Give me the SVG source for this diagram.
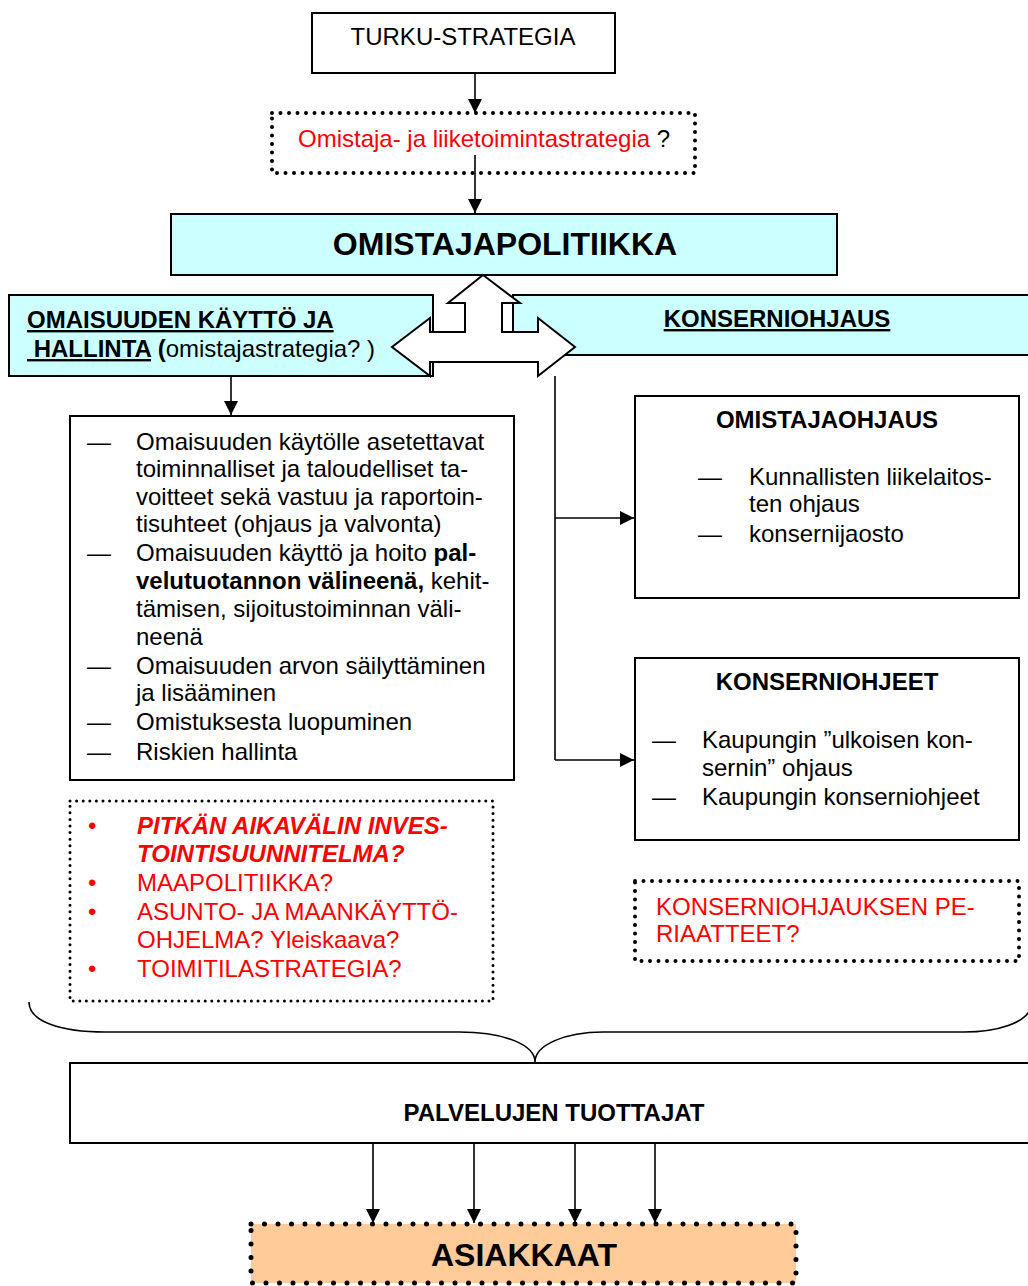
<svg xmlns="http://www.w3.org/2000/svg" width="1028" height="1286" viewBox="0 0 1028 1286">
<defs>
<marker id="ah" markerUnits="userSpaceOnUse" markerWidth="16" markerHeight="16" refX="14" refY="7" orient="auto"><path d="M0,0 L14,7 L0,14 z" fill="#000"/></marker>
<style>
text{font-family:"Liberation Sans",Arial,sans-serif;font-size:24px;fill:#000}
.b{font-weight:bold}
.bi{font-weight:bold;font-style:italic}
.r{fill:#f00}
.u{text-decoration:underline}
.mid{text-anchor:middle}
.box{fill:#fff;stroke:#000;stroke-width:2}
.cy{fill:#ccffff;stroke:#000;stroke-width:2}
.dots{fill:none;stroke:#000;stroke-width:4;stroke-linecap:round;stroke-dasharray:0 8.5}
.dots-s{fill:none;stroke:#000;stroke-width:3;stroke-linecap:round;stroke-dasharray:0 6.6}
.dots-l{fill:none;stroke:#000;stroke-width:5;stroke-linecap:round;stroke-dasharray:0 13.5}
.con{stroke:#000;stroke-width:1.6;fill:none}
.arr{marker-end:url(#ah)}
</style>
</defs>
<rect width="1028" height="1286" fill="#fff"/>

<g id="turku-strategia">
<rect class="box" x="312" y="13" width="303" height="60"/>
<text class="mid" x="463" y="45">TURKU-STRATEGIA</text>
</g>

<g id="omistaja-liiketoimintastrategia">
<rect class="dots" x="272" y="113" width="423" height="60"/>
<text x="298" y="147"><tspan class="r">Omistaja- ja liiketoimintastrategia</tspan> ?</text>
</g>

<g id="omistajapolitiikka">
<rect class="cy" x="171" y="214" width="666" height="61"/>
<text class="b mid" x="505" y="255" style="font-size:32px">OMISTAJAPOLITIIKKA</text>
</g>

<g id="omaisuuden-kaytto">
<rect class="cy" x="9" y="295" width="424" height="81"/>
<text class="b u" x="27" y="328">OMAISUUDEN KÄYTTÖ JA</text>
<text x="27" y="357" xml:space="preserve"><tspan class="b u"> HALLINTA</tspan><tspan class="b"> (</tspan>omistajastrategia? )</text>
</g>

<g id="konserniohjaus">
<rect class="cy" x="513" y="295" width="520" height="60"/>
<text class="b u mid" x="777" y="327">KONSERNIOHJAUS</text>
</g>

<g id="omaisuus-lista">
<rect class="box" x="70" y="416" width="444" height="364"/>
<text x="87" y="450">—</text>
<text x="136" y="450">Omaisuuden käytölle asetettavat</text>
<text x="136" y="477">toiminnalliset ja taloudelliset ta-</text>
<text x="136" y="505">voitteet sekä vastuu ja raportoin-</text>
<text x="136" y="532">tisuhteet (ohjaus ja valvonta)</text>
<text x="87" y="561">—</text>
<text x="136" y="561">Omaisuuden käyttö ja hoito <tspan class="b">pal-</tspan></text>
<text x="136" y="589"><tspan class="b">velutuotannon välineenä,</tspan> kehit-</text>
<text x="136" y="617">tämisen, sijoitustoiminnan väli-</text>
<text x="136" y="645">neenä</text>
<text x="87" y="674">—</text>
<text x="136" y="674">Omaisuuden arvon säilyttäminen</text>
<text x="136" y="701">ja lisääminen</text>
<text x="87" y="730">—</text>
<text x="136" y="730">Omistuksesta luopuminen</text>
<text x="87" y="760">—</text>
<text x="136" y="760">Riskien hallinta</text>
</g>

<g id="suunnitelmat">
<rect class="dots-s" x="70" y="801" width="423" height="200"/>
<text class="r" x="88" y="834">•</text>
<text class="r bi" x="137" y="834">PITKÄN AIKAVÄLIN INVES-</text>
<text class="r bi" x="137" y="862">TOINTISUUNNITELMA?</text>
<text class="r" x="88" y="891">•</text>
<text class="r" x="137" y="891">MAAPOLITIIKKA?</text>
<text class="r" x="88" y="920">•</text>
<text class="r" x="137" y="920">ASUNTO- JA MAANKÄYTTÖ-</text>
<text class="r" x="137" y="948">OHJELMA? Yleiskaava?</text>
<text class="r" x="88" y="977">•</text>
<text class="r" x="137" y="977">TOIMITILASTRATEGIA?</text>
</g>

<g id="omistajaohjaus">
<rect class="box" x="635" y="396" width="384" height="202"/>
<text class="b mid" x="827" y="428">OMISTAJAOHJAUS</text>
<text x="698" y="485">—</text>
<text x="749" y="485">Kunnallisten liikelaitos-</text>
<text x="749" y="512">ten ohjaus</text>
<text x="698" y="542">—</text>
<text x="749" y="542">konsernijaosto</text>
</g>

<g id="konserniohjeet">
<rect class="box" x="635" y="658" width="384" height="182"/>
<text class="b mid" x="827" y="690">KONSERNIOHJEET</text>
<text x="652" y="748">—</text>
<text x="702" y="748">Kaupungin ”ulkoisen kon-</text>
<text x="702" y="776">sernin” ohjaus</text>
<text x="652" y="805">—</text>
<text x="702" y="805">Kaupungin konserniohjeet</text>
</g>

<g id="konserniohjauksen-periaatteet">
<rect class="dots" x="635" y="881" width="384" height="80"/>
<text class="r" x="656" y="915">KONSERNIOHJAUKSEN PE-</text>
<text class="r" x="656" y="942">RIAATTEET?</text>
</g>

<g id="palvelujen-tuottajat">
<rect class="box" x="70" y="1063" width="970" height="80"/>
<text class="b mid" x="554" y="1121">PALVELUJEN TUOTTAJAT</text>
</g>

<g id="asiakkaat">
<rect x="251" y="1224" width="545" height="59" fill="#ffcc99"/>
<rect class="dots-l" x="251" y="1224" width="545" height="59"/>
<text class="b mid" x="524" y="1266" style="font-size:32px">ASIAKKAAT</text>
</g>

<g id="connectors">
<line class="con arr" x1="475" y1="73" x2="475" y2="113"/>
<line class="con arr" x1="475" y1="155" x2="475" y2="213"/>
<polygon points="483,275 520,303 502,303 502,332 538,332 538,318 575,347 538,376 538,362 430,362 430,376 392,347 430,318 430,332 465,332 465,303 448,303" fill="#fff" stroke="#000" stroke-width="2" stroke-linejoin="miter"/>
<line class="con arr" x1="231" y1="376" x2="231" y2="415"/>
<line class="con" x1="555" y1="376" x2="555" y2="760"/>
<line class="con arr" x1="555" y1="518" x2="634" y2="518"/>
<line class="con arr" x1="555" y1="760" x2="634" y2="760"/>
<path class="con" stroke-width="2" d="M29,1002 C29,1022 62,1032 105,1032 L459,1032 C505,1032 535,1045 535,1062 C535,1045 565,1032 603,1032 L964,1032 C1000,1032 1024,1022 1030,1010"/>
<line class="con arr" x1="373" y1="1143" x2="373" y2="1223"/>
<line class="con arr" x1="474" y1="1143" x2="474" y2="1223"/>
<line class="con arr" x1="575" y1="1143" x2="575" y2="1223"/>
<line class="con arr" x1="655" y1="1143" x2="655" y2="1223"/>
</g>
</svg>
